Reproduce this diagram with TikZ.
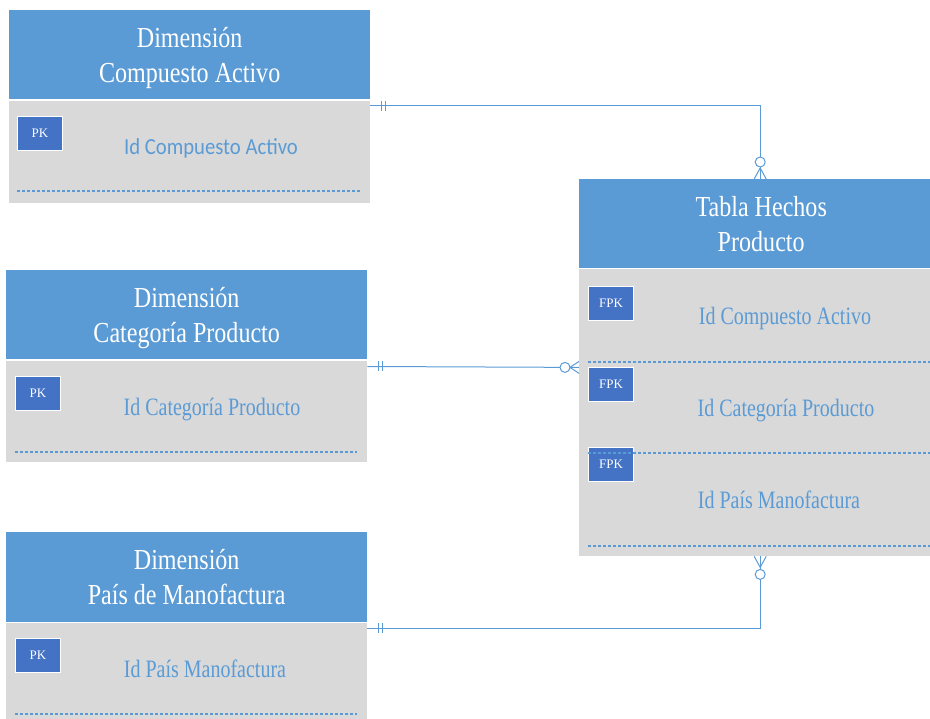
\documentclass[tikz,border=0pt]{standalone}
\usepackage{fontspec}
\setmainfont{Liberation Serif}
\newfontfamily\titlefont[FakeStretch=0.83]{Liberation Serif}
\newfontfamily\fieldfont[FakeStretch=0.8]{Liberation Serif}
\newfontfamily\fieldsans[FakeStretch=0.9]{Carlito}
\definecolor{hdrblue}{RGB}{91,155,213}
\definecolor{bodygray}{RGB}{217,217,217}
\definecolor{keyblue}{RGB}{68,114,196}
\definecolor{lineblue}{RGB}{91,155,213}
\tikzset{
  hdr/.style={fill=hdrblue, draw=none, anchor=north west, inner sep=0pt,
    text=white, align=center, font=\titlefont\fontsize{29}{35}\selectfont},
  bodybox/.style={fill=bodygray, draw=none, anchor=north west, inner sep=0pt},
  keybox/.style={fill=keyblue, draw=white, line width=1pt, anchor=north west,
    minimum width=45pt, minimum height=34pt, inner sep=0pt, text=white,
    font=\fontsize{13}{15}\selectfont},
  field/.style={text=lineblue, inner sep=0pt, font=\fieldfont\fontsize{25}{30}\selectfont},
  rowline/.style={draw=lineblue, line width=1.2pt, dash pattern=on 3pt off 2pt},
  rel/.style={draw=lineblue, line width=1pt},
  relmark/.style={draw=lineblue, line width=1pt}
}
\begin{document}
\begin{tikzpicture}[x=1pt,y=-1pt]
\useasboundingbox (0,0) rectangle (930,719);
\clip (0,0) rectangle (930,719);

% ---- Dimension: Compuesto Activo
\node[hdr, minimum width=361pt, minimum height=89pt, text depth=-4pt] (caH) at (9,10) {Dimensión\\Compuesto Activo};
\node[bodybox, minimum width=361pt, minimum height=102pt] (caB) at (9,101) {};
\node[keybox] (caK) at (17,116) {PK};
\node[field, font=\fieldsans\fontsize{23}{28}\selectfont] (caF) at (211,148) {Id Compuesto Activo};
\draw[rowline] (17,191) -- (360,191);

% ---- Dimension: Categoría Producto
\node[hdr, minimum width=361pt, minimum height=89pt, text depth=-4pt] (cpH) at (6,270) {Dimensión\\Categoría Producto};
\node[bodybox, minimum width=361pt, minimum height=101pt] (cpB) at (6,361) {};
\node[keybox] (cpK) at (15,376) {PK};
\node[field] (cpF) at (212,410) {Id Categoría Producto};
\draw[rowline] (15,452) -- (357,452);

% ---- Dimension: País de Manofactura
\node[hdr, minimum width=361pt, minimum height=90pt] (pmH) at (6,532) {Dimensión\\País de Manofactura};
\node[bodybox, minimum width=361pt, minimum height=96pt] (pmB) at (6,623) {};
\node[keybox] (pmK) at (15,638) {PK};
\node[field] (pmF) at (205,669) {Id País Manofactura};
\draw[rowline] (15,714) -- (357,714);

% ---- Fact table: Tabla Hechos Producto
\node[hdr, minimum width=364pt, minimum height=89pt, text depth=-4pt] (thH) at (579,179) {Tabla Hechos\\Producto};
\node[bodybox, minimum width=364pt, minimum height=287pt] (thB) at (579,269) {};
\node[keybox] (thK1) at (588,286) {FPK};
\node[keybox] (thK2) at (588,367) {FPK};
\node[keybox] (thK3) at (588,447) {FPK};
\node[field] (thF1) at (785,318) {Id Compuesto Activo};
\node[field] (thF2) at (786,411) {Id Categoría Producto};
\node[field] (thF3) at (779,500) {Id País Manofactura};
\draw[rowline] (588,362) -- (930,362);
\draw[rowline] (588,453) -- (930,453);
\draw[rowline] (588,546) -- (930,546);

% ---- Relationship ends
\coordinate (r1a) at ([yshift=-5pt]caB.north east);
\coordinate (r1b) at ([xshift=-1pt]thH.north);
\coordinate (r2a) at ([yshift=-5.5pt]cpB.north east);
\coordinate (r2b) at ([yshift=-99pt]thH.south west);
\coordinate (r3a) at ([yshift=-5pt]pmB.north east);
\coordinate (r3b) at ([xshift=-1pt]thB.south);

% Compuesto Activo (1) -- (0..n) Tabla Hechos
\draw[rel] (r1a) -| (r1b);
\draw[relmark] ([xshift=11pt]r1a) ++(0,-5) -- ++(0,10);
\draw[relmark] ([xshift=15pt]r1a) ++(0,-5) -- ++(0,10);
\draw[relmark, fill=white] ([yshift=17pt]r1b) circle[radius=5pt];
\draw[relmark] ([yshift=11pt]r1b) -- ([xshift=-6pt]r1b);
\draw[relmark] ([yshift=11pt]r1b) -- ([xshift=6pt]r1b);

% Categoría Producto (1) -- (0..n) Tabla Hechos
\draw[rel] (r2a) -- (r2b);
\draw[relmark] ([xshift=11pt]r2a) ++(0,-5) -- ++(0,10);
\draw[relmark] ([xshift=15pt]r2a) ++(0,-5) -- ++(0,10);
\draw[relmark, fill=white] ([xshift=-14pt]r2b) circle[radius=5pt];
\draw[relmark] ([xshift=-9pt]r2b) -- ([yshift=6pt]r2b);
\draw[relmark] ([xshift=-9pt]r2b) -- ([yshift=-6pt]r2b);

% País de Manofactura (1) -- (0..n) Tabla Hechos
\draw[rel] (r3a) -| (r3b);
\draw[relmark] ([xshift=11pt]r3a) ++(0,-5) -- ++(0,10);
\draw[relmark] ([xshift=15pt]r3a) ++(0,-5) -- ++(0,10);
\draw[relmark, fill=white] ([yshift=-18pt]r3b) circle[radius=5pt];
\draw[relmark] ([yshift=-11pt]r3b) -- ([xshift=-6pt]r3b);
\draw[relmark] ([yshift=-11pt]r3b) -- ([xshift=6pt]r3b);
\end{tikzpicture}
\end{document}
